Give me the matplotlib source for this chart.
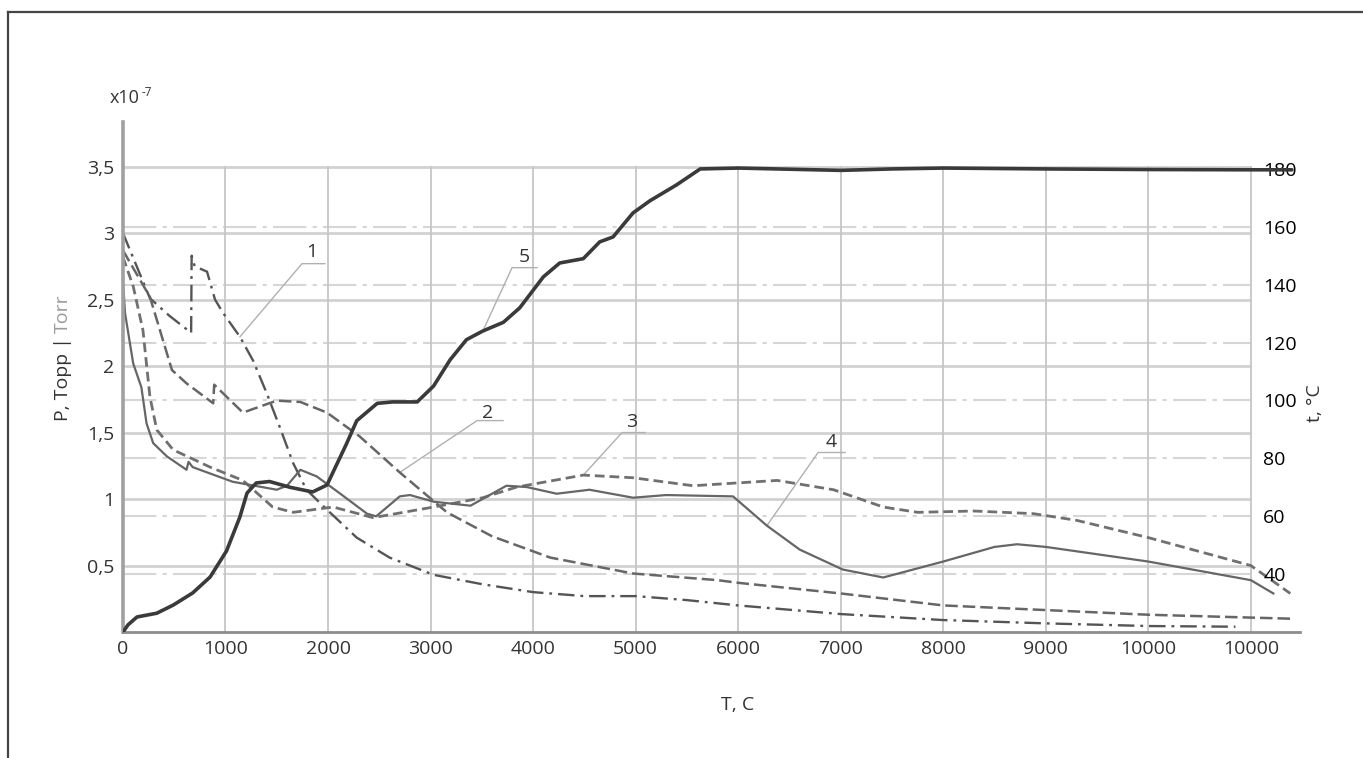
import matplotlib
matplotlib.use("Agg")
import matplotlib.pyplot as plt
from matplotlib.lines import Line2D

plt.rcParams['font.family'] = ['Open Sans', 'DejaVu Sans']
plt.rcParams['font.size'] = 14

TEXT = '#333333'

# pressure curves 1-4 (x1e-7 Torr) vs time T, c
x1 = [0, 263, 450, 665, 670, 700, 820, 898, 976, 1141, 1270, 1400, 1530, 1660, 1790, 1990,
      2280, 2600, 3030, 3500, 4000, 4500, 5000, 5500, 6000, 7000, 8000, 9000, 10000, 10850]
p1 = [3.0, 2.51, 2.38, 2.25, 2.83, 2.75, 2.71, 2.50, 2.40, 2.22, 2.04, 1.80, 1.54, 1.27, 1.07, 0.92,
      0.71, 0.56, 0.43, 0.36, 0.30, 0.27, 0.27, 0.24, 0.20, 0.135, 0.09, 0.065, 0.045, 0.04]

x2 = [0, 263, 478, 620, 880, 890, 1170, 1500, 1730, 1990, 2310, 2700, 3160, 3600, 4166, 4975,
      5800, 6000, 7000, 8000, 9000, 10000, 11400]
p2 = [2.87, 2.52, 1.97, 1.87, 1.72, 1.86, 1.65, 1.74, 1.73, 1.65, 1.47, 1.20, 0.90, 0.72, 0.56, 0.44,
      0.39, 0.37, 0.29, 0.20, 0.165, 0.13, 0.10]

x3 = [0, 100, 195, 263, 330, 490, 850, 1170, 1460, 1660, 2050, 2440, 3030, 3510, 3840, 4490, 4975,
      5560, 6380, 6930, 7415, 7750, 8300, 8880, 9300, 10000, 11000, 11385]
p3 = [2.82, 2.6, 2.27, 1.77, 1.52, 1.37, 1.24, 1.14, 0.94, 0.90, 0.94, 0.86, 0.94, 1.01, 1.09, 1.18, 1.16,
      1.10, 1.14, 1.07, 0.94, 0.90, 0.91, 0.89, 0.84, 0.71, 0.50, 0.29]

x4 = [0, 20, 100, 180, 230, 295, 430, 620, 640, 680, 1070, 1500, 1600, 1730, 1890, 2120, 2380, 2470,
      2700, 2800, 3030, 3390, 3740, 3940, 4230, 4550, 4975, 5300, 5950, 6280, 6600, 7020, 7415, 8000,
      8500, 8720, 9000, 10000, 11000, 11220]
p4 = [2.65, 2.4, 2.02, 1.84, 1.57, 1.42, 1.32, 1.22, 1.28, 1.24, 1.13, 1.07, 1.10, 1.22, 1.17, 1.04, 0.89, 0.87,
      1.02, 1.03, 0.98, 0.95, 1.10, 1.09, 1.04, 1.07, 1.01, 1.03, 1.02, 0.80, 0.62, 0.47, 0.41, 0.53,
      0.64, 0.66, 0.64, 0.53, 0.39, 0.29]

# temperature curve 5, deg C
x5 = [0, 50, 137, 330, 490, 680, 850, 1010, 1140, 1210, 1300, 1430, 1630, 1850, 1990, 2180, 2280,
      2480, 2630, 2870, 3030, 3190, 3350, 3510, 3710, 3870, 4100, 4260, 4490, 4650, 4780, 4975, 5140,
      5400, 5630, 6000, 6500, 7000, 7500, 8000, 9000, 10000, 11000, 11400]
t5 = [20, 22.5, 25.2, 26.5, 29.3, 33.5, 39, 48, 59.7, 68, 71.5, 72, 70, 68.4, 70.8, 85, 93,
      99, 99.5, 99.5, 105, 114, 121, 124, 127, 132, 142.7, 147.5, 149, 154.8, 156.5, 164.8, 169,
      174.5, 180, 180.3, 179.9, 179.5, 180, 180.3, 180, 179.8, 179.7, 179.7]

x_ticks = list(range(0, 12000, 1000))
x_labels = ['0', '1000', '2000', '3000', '4000', '5000', '6000', '7000', '8000', '9000', '10000', '10000']
p_ticks = [0.5, 1, 1.5, 2, 2.5, 3, 3.5]
p_labels = ['0,5', '1', '1,5', '2', '2,5', '3', '3,5']
t_ticks = [40, 60, 80, 100, 120, 140, 160, 180]

# curve number, leader start (on curve), elbow, end, label centre
callouts = [
    ('1', (1141, 2.22), (1746, 2.77), (1970, 2.77), (1844, 2.857), 'p'),
    ('2', (2700, 1.20), (3454, 1.59), (3707, 1.59), (3561, 1.647), 'p'),
    ('3', (4490, 1.18), (4868, 1.50), (5093, 1.50), (4966, 1.579), 'p'),
    ('4', (6280, 0.80), (6780, 1.35), (7044, 1.35), (6907, 1.43), 'p'),
    ('5', (3510, 124), (3795, 2.74), (4039, 2.74), (3912, 2.82), 't'),
]

fig = plt.figure(figsize=(13.63, 7.58), dpi=100)
ax = fig.add_axes([0.0902, 0.1662, 0.8636, 0.6728])
ax2 = ax.twinx()

ax.set_xlim(0, 11480)
ax.set_ylim(0, 3.835)
ax2.set_ylim(20, 196.2)

# grid: solid for the pressure scale, dash-dot for temperature, verticals up to 3,5
for y in p_ticks:
    ax.plot([0, 11000], [y, y], color='#d2d2d2', lw=2, zorder=0, solid_capstyle='butt')
for t in t_ticks[:-1]:
    ax.plot([0, 11000], [t, t], color='#d6d6d6', lw=1.5, zorder=0,
            ls=(0, (16, 3, 2, 3)), transform=ax2.transData)
for xv in x_ticks[1:]:
    ax.plot([xv, xv], [0, 3.5], color='#c6c6c6', lw=1.3, zorder=0)

ax.plot(x1, p1, color='#555555', lw=1.7, ls=(0, (7, 2.5, 1.2, 2.5)), zorder=2)
ax.plot(x2, p2, color='#666666', lw=1.8, ls=(0, (5, 2)), zorder=2)
ax.plot(x3, p3, color='#707070', lw=2.0, ls=(0, (3.5, 1.8)), zorder=2)
ax.plot(x4, p4, color='#666666', lw=1.6, zorder=2, solid_joinstyle='round')
ax2.plot(x5, t5, color='#3a3a3a', lw=2.6, solid_joinstyle='round', solid_capstyle='round')

for num, start, elbow, end, pos, scale in callouts:
    if scale == 't':
        start = ax.transData.inverted().transform(ax2.transData.transform(start))
    ax.plot([start[0], elbow[0], end[0]], [start[1], elbow[1], end[1]],
            color='#b0b0b0', lw=1, zorder=1)
    ax.text(pos[0], pos[1], num, color=TEXT, ha='center', va='center', fontsize=14)

ax.set_xticks(x_ticks)
ax.set_xticklabels(x_labels, color=TEXT)
ax.set_yticks(p_ticks)
ax.set_yticklabels(p_labels, color=TEXT)
ax.tick_params(axis='both', length=0)
ax.tick_params(axis='x', pad=6)
ax.tick_params(axis='y', pad=6)

ax2.set_yticks(t_ticks)
ax2.set_yticklabels([str(t) for t in t_ticks], color=TEXT)
ax2.spines['right'].set_position(('data', 11000))
ax2.tick_params(axis='y', length=0, pad=9)

for s in ['top', 'right']:
    ax.spines[s].set_visible(False)
for s in ['top', 'right', 'left', 'bottom']:
    ax2.spines[s].set_visible(False)
ax.spines['left'].set_color('#a0a0a0')
ax.spines['left'].set_linewidth(2.6)
ax.spines['bottom'].set_color('#8c8c8c')
ax.spines['bottom'].set_linewidth(2)

# axis titles
fig.text(738 / 1363, 1 - 705 / 758, 'T, C', ha='center', va='center', color=TEXT, fontsize=14)
fig.text(1315 / 1363, 1 - 403 / 758, 't, °C', ha='center', va='center', rotation=90,
         color=TEXT, fontsize=14)
p_title = fig.text(63 / 1363, 1 - 421 / 758, 'P, Topp |', ha='center', va='bottom', rotation=90,
                   color=TEXT, fontsize=14)
ax.annotate('Torr', xy=(0.5, 1), xycoords=p_title, xytext=(0, 3), textcoords='offset points',
            ha='center', va='bottom', rotation=90, color='#9a9a9a', fontsize=14,
            annotation_clip=False)
fig.text(110 / 1363, 1 - 98 / 758, 'x10', ha='left', va='center', color=TEXT, fontsize=13)
fig.text(142 / 1363, 1 - 92 / 758, '-7', ha='left', va='center', color=TEXT, fontsize=8.5)

# frame on the left and top edges
fig.add_artist(Line2D([8 / 1363, 8 / 1363], [0, 1 - 12 / 758], transform=fig.transFigure,
                      color='#444444', lw=1.6))
fig.add_artist(Line2D([8 / 1363, 1], [1 - 12 / 758, 1 - 12 / 758], transform=fig.transFigure,
                      color='#444444', lw=1.6))

fig.savefig('out.png', dpi=100)
